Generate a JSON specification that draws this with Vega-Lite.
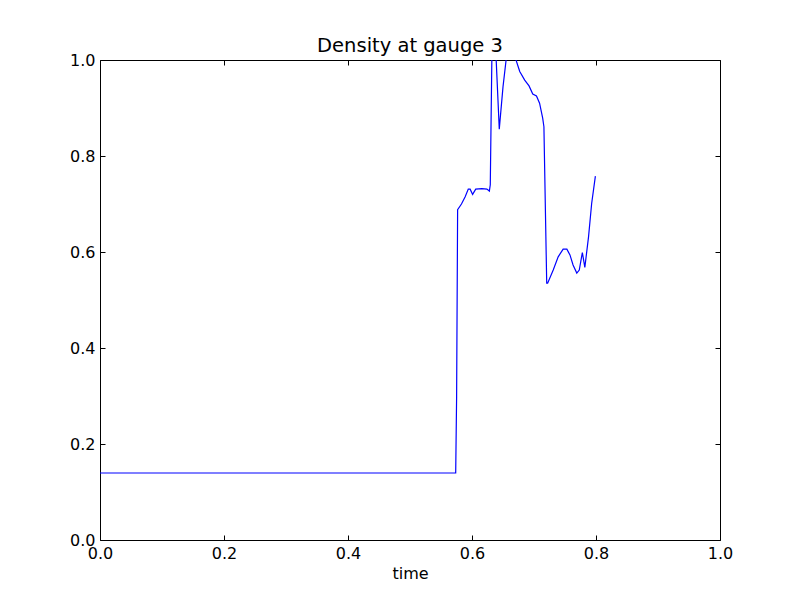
{
  "$schema": "https://vega.github.io/schema/vega-lite/v6.json",
  "width": 620,
  "height": 480,
  "autosize": {"type": "none"},
  "padding": {"left": 100, "top": 60, "right": 80, "bottom": 60},
  "background": "white",
  "title": {"text": "Density at gauge 3", "font": "DejaVu Sans", "fontSize": 19.5, "fontWeight": "normal", "color": "black", "offset": -4},
  "config": {
    "view": {"stroke": "black", "strokeWidth": 1},
    "axis": {"labelFont": "DejaVu Sans", "labelFontSize": 16, "labelColor": "black", "titleFont": "DejaVu Sans", "titleFontSize": 16, "titleFontWeight": "normal", "titleColor": "black", "grid": false, "domain": false, "tickColor": "black", "tickSize": -5, "tickCount": 6, "labelFlush": false}
  },
  "data": {"values": [
    {"time": 0.0, "density": 0.1396},
    {"time": 0.5737, "density": 0.1396},
    {"time": 0.5752, "density": 0.30},
    {"time": 0.5768, "density": 0.688},
    {"time": 0.583, "density": 0.700},
    {"time": 0.589, "density": 0.715},
    {"time": 0.594, "density": 0.731},
    {"time": 0.597, "density": 0.731},
    {"time": 0.601, "density": 0.720},
    {"time": 0.606, "density": 0.731},
    {"time": 0.616, "density": 0.732},
    {"time": 0.624, "density": 0.731},
    {"time": 0.628, "density": 0.727},
    {"time": 0.6295, "density": 0.74},
    {"time": 0.632, "density": 1.0},
    {"time": 0.6355, "density": 1.08},
    {"time": 0.639, "density": 1.0},
    {"time": 0.644, "density": 0.856},
    {"time": 0.650, "density": 0.944},
    {"time": 0.655, "density": 1.0},
    {"time": 0.663, "density": 1.03},
    {"time": 0.671, "density": 1.0},
    {"time": 0.677, "density": 0.976},
    {"time": 0.685, "density": 0.958},
    {"time": 0.692, "density": 0.946},
    {"time": 0.698, "density": 0.929},
    {"time": 0.704, "density": 0.925},
    {"time": 0.709, "density": 0.910},
    {"time": 0.714, "density": 0.879},
    {"time": 0.716, "density": 0.861},
    {"time": 0.7205, "density": 0.535},
    {"time": 0.722, "density": 0.535},
    {"time": 0.731, "density": 0.5625},
    {"time": 0.739, "density": 0.590},
    {"time": 0.747, "density": 0.606},
    {"time": 0.753, "density": 0.606},
    {"time": 0.758, "density": 0.594},
    {"time": 0.763, "density": 0.573},
    {"time": 0.769, "density": 0.556},
    {"time": 0.773, "density": 0.5625},
    {"time": 0.778, "density": 0.599},
    {"time": 0.782, "density": 0.568},
    {"time": 0.788, "density": 0.632},
    {"time": 0.793, "density": 0.701},
    {"time": 0.799, "density": 0.758}
  ]},
  "layer": [
    {
      "mark": {"type": "line", "color": "#0000ff", "strokeWidth": 1.2, "clip": true},
      "encoding": {
        "x": {"field": "time", "type": "quantitative", "scale": {"domain": [0, 1], "nice": false}, "axis": {"title": "time", "format": ".1f", "values": [0, 0.2, 0.4, 0.6, 0.8, 1.0], "labelPadding": 10, "titlePadding": 4}},
        "y": {"field": "density", "type": "quantitative", "scale": {"domain": [0, 1], "nice": false}, "axis": {"title": null, "format": ".1f", "values": [0, 0.2, 0.4, 0.6, 0.8, 1.0], "labelPadding": 10}}
      }
    },
    {
      "mark": {"type": "line", "strokeOpacity": 0, "clip": true},
      "encoding": {
        "x": {"field": "time", "type": "quantitative", "axis": {"orient": "top", "labels": false, "title": null, "values": [0, 0.2, 0.4, 0.6, 0.8, 1.0]}},
        "y": {"field": "density", "type": "quantitative", "axis": {"orient": "right", "labels": false, "title": null, "values": [0, 0.2, 0.4, 0.6, 0.8, 1.0]}}
      }
    }
  ],
  "resolve": {"axis": {"x": "independent", "y": "independent"}}
}
